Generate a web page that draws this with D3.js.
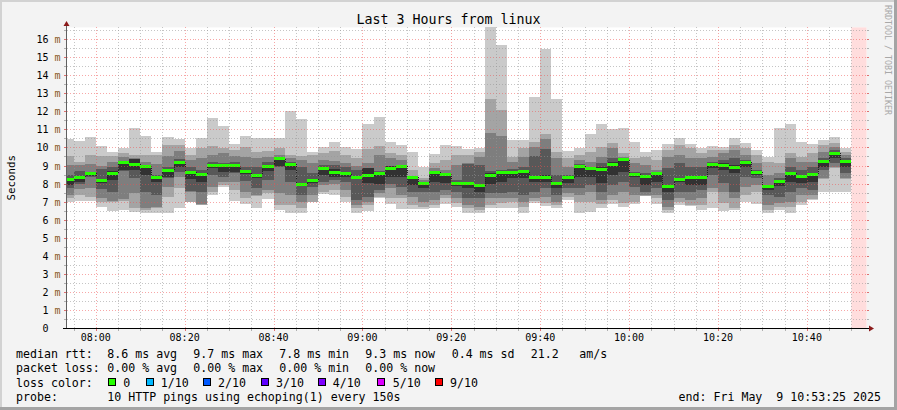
<!DOCTYPE html>
<html><head><meta charset="utf-8">
<script src="https://cdn.jsdelivr.net/npm/d3@7"></script>
<style>
html,body{margin:0;padding:0;background:#f3f3f3;}
svg{display:block;}
text{font-family:"DejaVu Sans Mono",monospace;white-space:pre;}
</style></head><body>
<svg id="chart" width="897" height="410"></svg>
<script>
// ---- data ----
const title = "Last 3 Hours from linux";
const startTime = "07:53:25";
const endTime = "10:53:25";
const unknownFrom = "10:50:00";
const stepSeconds = 150;
const barStart = ["07:52:30","07:55:00","07:57:30","08:00:00","08:02:30","08:05:00","08:07:30","08:10:00","08:12:30","08:15:00",
"08:17:30","08:20:00","08:22:30","08:25:00","08:27:30","08:30:00","08:32:30","08:35:00","08:37:30","08:40:00",
"08:42:30","08:45:00","08:47:30","08:50:00","08:52:30","08:55:00","08:57:30","09:00:00","09:02:30","09:05:00",
"09:07:30","09:10:00","09:12:30","09:15:00","09:17:30","09:20:00","09:22:30","09:25:00","09:27:30","09:30:00",
"09:32:30","09:35:00","09:37:30","09:40:00","09:42:30","09:45:00","09:47:30","09:50:00","09:52:30","09:55:00",
"09:57:30","10:00:00","10:02:30","10:05:00","10:07:30","10:10:00","10:12:30","10:15:00","10:17:30","10:20:00",
"10:22:30","10:25:00","10:27:30","10:30:00","10:32:30","10:35:00","10:37:30","10:40:00","10:42:30","10:45:00",
"10:47:30"];
// sorted ping values (ms), p10 = slowest, p1 = fastest
const p10 = [10.46,10.35,10.57,10.08,9.76,9.95,11.07,10.63,9.76,10.57,10.46,9.95,10.50,11.63,11.18,10.19,10.63,10.50,10.50,10.50,12.01,11.57,9.76,10.02,10.30,10.01,9.91,11.30,11.69,10.30,10.14,9.75,8.94,9.62,10.12,10.06,9.90,9.99,16.65,15.67,10.41,10.41,12.79,15.45,12.68,9.80,9.95,10.74,11.29,11.00,11.07,10.30,9.74,9.85,10.17,10.52,10.19,9.95,10.08,10.00,10.52,10.24,9.85,9.47,11.07,11.29,10.30,10.19,10.43,10.57,9.96];
const p9 = [9.52,9.21,9.61,9.52,9.52,9.72,9.61,9.61,9.58,10.13,10.13,9.61,9.95,10.09,9.95,9.85,10.04,9.76,9.80,9.95,9.61,9.54,9.58,9.67,9.80,9.58,9.40,9.91,10.10,9.67,9.58,8.75,8.29,9.12,9.31,9.58,9.58,9.77,12.68,12.07,9.49,9.95,10.32,10.74,9.73,9.40,9.58,9.77,10.04,10.22,9.67,9.39,9.48,9.30,9.85,10.13,9.95,9.72,9.85,9.85,10.13,9.95,9.58,9.21,9.12,9.67,9.48,9.67,10.13,10.22,9.76];
const p8 = [9.02,9.02,9.06,8.97,9.21,9.47,9.43,9.21,9.06,9.52,9.80,9.30,9.39,9.61,9.67,9.55,9.48,9.39,9.48,9.61,9.39,9.30,9.12,9.30,9.25,9.12,8.99,9.12,9.58,9.43,9.31,8.38,8.20,8.84,8.75,9.03,9.12,9.49,10.82,10.63,9.21,9.49,10.02,10.47,9.40,8.94,9.31,9.21,9.48,9.95,9.48,9.12,9.02,8.75,9.48,9.58,9.39,9.39,9.48,9.67,9.85,9.58,9.12,8.47,8.56,9.39,9.21,9.21,9.76,10.04,9.58];
const p7 = [8.47,8.69,8.65,8.80,8.93,9.25,9.37,9.02,8.47,8.90,9.34,8.90,8.75,9.21,9.12,9.21,8.93,8.93,9.21,9.47,9.21,8.93,8.56,9.02,9.03,8.94,8.75,8.88,8.70,9.00,9.03,8.38,8.11,8.70,8.57,8.20,9.10,9.03,8.70,8.75,8.81,8.94,9.53,9.91,8.47,8.47,9.06,8.94,9.12,9.39,9.39,8.65,8.56,8.65,8.84,9.12,8.93,8.93,9.21,9.30,9.39,9.30,8.75,7.92,8.29,8.93,8.75,8.93,9.39,9.85,9.39];
const p6 = [8.32,8.40,8.60,8.25,8.69,9.20,9.36,9.00,8.40,8.78,9.22,8.68,8.55,9.05,9.08,9.07,8.75,8.50,9.02,9.42,9.12,8.05,8.25,8.88,8.81,8.66,8.40,8.84,8.66,8.99,9.02,8.37,8.05,8.68,8.53,8.06,8.00,7.92,8.57,8.66,8.66,8.72,8.38,8.47,8.02,8.40,9.00,8.90,8.93,9.21,9.35,8.56,8.45,8.58,7.90,8.28,8.38,8.38,9.12,9.12,9.02,9.22,8.66,7.88,8.18,8.65,8.45,8.60,9.25,9.72,9.27];
const median = [8.23,8.34,8.56,8.17,8.58,9.15,9.08,8.95,8.34,8.73,9.17,8.62,8.51,8.99,9.02,9.00,8.67,8.43,8.97,9.37,9.06,7.97,8.17,8.82,8.60,8.53,8.35,8.44,8.53,8.84,8.97,8.36,8.01,8.64,8.51,8.03,7.98,7.88,8.46,8.60,8.60,8.66,8.31,8.36,7.98,8.33,8.97,8.84,8.78,9.06,9.32,8.52,8.41,8.54,7.82,8.25,8.34,8.34,9.08,9.02,8.91,9.19,8.62,7.84,8.14,8.56,8.41,8.51,9.23,9.67,9.23];
const p5 = [7.92,8.10,8.42,8.05,8.19,8.75,8.75,8.47,8.06,8.38,8.93,8.25,8.10,8.85,8.65,8.65,8.51,8.32,8.69,8.97,8.75,7.85,8.05,8.47,8.38,8.38,8.29,8.02,7.96,8.38,8.38,7.92,7.74,8.11,8.02,7.85,7.74,7.55,7.96,8.11,8.29,8.29,8.11,8.11,7.74,8.02,8.38,8.38,8.01,8.47,8.65,8.38,7.92,8.10,7.55,8.06,7.92,7.92,8.84,8.75,8.56,8.93,8.47,7.64,7.88,8.10,8.01,8.10,8.93,9.39,8.93];
const p4 = [7.73,8.00,8.38,7.69,7.55,8.70,8.29,7.55,7.36,8.30,8.62,7.60,7.55,8.47,8.38,8.60,8.15,7.73,8.19,8.90,8.10,7.36,7.82,8.06,8.20,8.11,7.09,7.27,7.64,7.96,7.83,7.55,7.55,7.55,7.65,7.55,7.18,7.18,7.46,7.46,7.55,7.37,7.55,7.74,7.37,7.74,7.74,7.92,7.55,7.92,8.10,7.82,7.55,7.73,7.09,7.55,7.55,7.64,8.47,8.01,7.55,8.38,8.29,7.36,7.27,7.55,7.73,7.64,8.75,9.12,8.56];
const p3 = [7.36,7.69,7.73,7.18,7.05,7.15,7.45,6.62,6.72,7.82,8.38,7.55,6.85,7.82,8.10,8.10,7.55,7.36,7.64,7.45,7.36,6.99,7.36,7.92,7.96,7.64,6.81,7.00,7.46,7.74,7.37,7.28,7.00,7.09,7.37,7.18,6.81,6.72,7.18,7.18,7.18,7.00,7.18,7.28,7.00,7.46,7.37,7.55,7.09,7.36,7.55,7.36,7.36,7.36,6.72,7.18,7.09,7.18,7.73,7.55,7.18,7.82,7.92,6.81,6.90,6.99,7.36,7.36,8.29,8.93,8.29];
const p2 = [7.18,7.36,7.27,6.96,6.99,7.05,6.62,6.55,6.66,7.27,7.73,7.00,6.83,7.55,7.92,7.64,7.18,7.30,7.45,6.81,6.81,6.62,6.99,7.55,7.64,7.28,6.66,6.81,7.25,7.18,7.18,6.81,6.72,6.81,7.18,6.90,6.63,6.53,6.81,6.90,7.00,6.72,7.03,6.95,6.81,7.27,7.00,7.00,6.85,7.09,6.90,6.99,7.33,7.18,6.53,6.99,6.81,6.81,7.55,6.90,6.62,7.36,7.55,6.53,6.72,6.72,6.99,7.15,8.25,8.85,8.27];
const p1 = [6.99,7.03,7.03,6.72,6.49,6.53,6.44,6.35,6.35,6.35,6.66,6.96,6.81,7.36,7.82,7.03,6.85,6.66,7.14,6.53,6.38,6.38,6.96,7.44,7.37,7.00,6.39,6.50,7.18,6.87,6.57,6.59,6.59,6.63,6.87,6.72,6.39,6.35,6.63,6.65,6.67,6.39,6.91,6.76,6.67,7.07,6.39,6.44,6.62,6.88,6.70,6.85,7.31,6.85,6.38,6.81,6.75,6.55,6.62,6.49,6.53,6.99,6.86,6.38,6.53,6.38,6.81,7.09,7.55,7.55,7.55];
const yTicks = [0,1,2,3,4,5,6,7,8,9,10,11,12,13,14,15,16];
const xTickLabels = ["08:00","08:20","08:40","09:00","09:20","09:40","10:00","10:20","10:40"];
const lossLabels = ["0","1/10","2/10","3/10","4/10","5/10","9/10"];
const lossColors = ["#26ff00","#00b8ff","#0059ff","#5e00ff","#7e00ff","#dd00ff","#ff0000"];
const rttStats = ["8.6 ms avg","9.7 ms max","7.8 ms min","9.3 ms now","0.4 ms sd","21.2","am/s"];
const lossStats = ["0.00 % avg","0.00 % max","0.00 % min","0.00 % now"];
const probeText = "10 HTTP pings using echoping(1) every 150s";
const endText = "end: Fri May  9 10:53:25 2025";

// ---- drawing ----
const W = 897, H = 410;
const L = 66.5, R = 866.5, T = 27.4, B = 328;
const parse = t => { const [h,m,s] = t.split(":").map(Number); return new Date(2025,4,9,h,m,s); };
const svg = d3.select("#chart");
const x = d3.scaleTime().domain([parse(startTime), parse(endTime)]).range([L, R]);
const y = d3.scaleLinear().domain([0, 16.65]).range([B, T]);

// frame
svg.append("rect").attr("width",W).attr("height",H).attr("fill","#f3f3f3");
svg.append("rect").attr("x",0).attr("y",0).attr("width",W).attr("height",2).attr("fill","#d2d2d2");
svg.append("rect").attr("x",0).attr("y",0).attr("width",2).attr("height",H).attr("fill","#d2d2d2");
svg.append("rect").attr("x",W-3).attr("y",0).attr("width",3).attr("height",H).attr("fill","#a4a4a4");
svg.append("rect").attr("x",0).attr("y",H-3).attr("width",W).attr("height",3).attr("fill","#a4a4a4");

// plot background
svg.append("rect").attr("x",L).attr("y",T).attr("width",R-L).attr("height",B-T).attr("fill","#ffffff");
// unknown region
svg.append("rect").attr("x",x(parse(unknownFrom))).attr("y",T)
  .attr("width",x(parse(endTime))-x(parse(unknownFrom))).attr("height",B-T).attr("fill","#ffdddd");

const bars = barStart.map((s,i)=>{
  const t0 = parse(s);
  const t1 = new Date(t0.getTime()+stepSeconds*1000);
  return {i, x0: Math.max(L, x(t0)), x1: x(t1),
    p:[p1[i],p2[i],p3[i],p4[i],p5[i],p6[i],p7[i],p8[i],p9[i],p10[i]], med: median[i]};
});
const layerColors = ["#cacaca","#a4a4a4","#7e7e7e","#585858","#323232","#585858","#7e7e7e","#a4a4a4","#cacaca"];
const smoke = svg.append("g").attr("shape-rendering","crispEdges");
layerColors.forEach((c,k)=>{
  smoke.selectAll(null).data(bars).enter().append("rect")
    .attr("x",d=>d.x0).attr("width",d=>d.x1-d.x0)
    .attr("y",d=>y(d.p[k+1])).attr("height",d=>Math.max(0,y(d.p[k])-y(d.p[k+1])))
    .attr("fill",c);
});
// median connectors
const conn = svg.append("g").attr("shape-rendering","crispEdges");
bars.slice(1).forEach((d,j)=>{
  const prev = bars[j];
  conn.append("line").attr("x1",Math.round(d.x0)+0.5).attr("x2",Math.round(d.x0)+0.5)
    .attr("y1",y(prev.med)).attr("y2",y(d.med)).attr("stroke","#202020").attr("stroke-width",1)
    .attr("stroke-dasharray","1,1");
});
svg.append("g").attr("shape-rendering","crispEdges").selectAll("rect").data(bars).enter().append("rect")
  .attr("x",d=>d.x0).attr("width",d=>d.x1-d.x0)
  .attr("y",d=>y(d.med)-1.5).attr("height",3).attr("fill",lossColors[0]);

// grid
const grid = svg.append("g").attr("shape-rendering","crispEdges");
const minorC = "rgba(150,150,150,0.55)", majorC = "rgba(240,80,80,0.5)";
const halfSteps = d3.range(1, 34).map(k=>k*0.5).filter(v=>y(v)>=T);
halfSteps.forEach(v=>{
  const yy = Math.round(y(v))+0.5;
  const major = Number.isInteger(v);
  grid.append("line").attr("x1",L).attr("x2",R).attr("y1",yy).attr("y2",yy)
    .attr("stroke",major?majorC:minorC).attr("stroke-dasharray","1,2");
  grid.append("line").attr("x1",L-3).attr("x2",L).attr("y1",yy).attr("y2",yy).attr("stroke",major?"#e07070":"#b0b0b0");
  grid.append("line").attr("x1",R).attr("x2",R+2).attr("y1",yy).attr("y2",yy).attr("stroke",major?"#e07070":"#b0b0b0");
});
const minorTimes = x.ticks(d3.timeMinute.every(5));
minorTimes.forEach(t=>{
  const xx = Math.round(x(t))+0.5;
  const major = t.getMinutes()%20===0;
  grid.append("line").attr("x1",xx).attr("x2",xx).attr("y1",T).attr("y2",B)
    .attr("stroke",major?majorC:minorC).attr("stroke-dasharray","1,2");
  grid.append("line").attr("x1",xx).attr("x2",xx).attr("y1",B).attr("y2",B+3).attr("stroke",major?"#e07070":"#b0b0b0");
});

// axes
svg.append("line").attr("x1",L).attr("x2",L).attr("y1",B).attr("y2",23).attr("stroke","#606060").attr("shape-rendering","crispEdges");
svg.append("path").attr("d",`M${L-3},26 L${L+3},26 L${L},21 Z`).attr("fill","#8b1a1a");
svg.append("line").attr("x1",L-4).attr("x2",870).attr("y1",B+0.5).attr("y2",B+0.5).attr("stroke","#000").attr("shape-rendering","crispEdges");
svg.append("path").attr("d",`M869,${B-2.5} L869,${B+3.5} L874,${B+0.5} Z`).attr("fill","#8b1a1a");

// y labels
const yl = svg.append("g").attr("font-size","10px").attr("text-anchor","end");
yTicks.forEach(v=>{
  const t = yl.append("text").attr("x",60.5).attr("y",Math.round(y(v))+4);
  if (v===0) { t.append("tspan").attr("fill","#000").text("0  "); }
  else { t.append("tspan").attr("fill","#000").text(v+" "); t.append("tspan").attr("fill","#8a5a24").text("m"); }
});
// x labels
const xl = svg.append("g").attr("font-size","10px").attr("text-anchor","middle").attr("fill","#000");
xTickLabels.forEach(s=>{ xl.append("text").attr("x",x(parse(s+":00"))).attr("y",341).text(s); });

// titles
svg.append("text").attr("x",448.5).attr("y",24).attr("text-anchor","middle").attr("font-size","13.3px").attr("fill","#000").text(title);
svg.append("text").attr("transform",`translate(14.5,${(T+B)/2}) rotate(-90)`).attr("text-anchor","middle")
  .attr("font-size","10.8px").attr("fill","#000").text("Seconds");
svg.append("text").attr("transform","translate(884.5,5) rotate(90)").attr("font-size","8.3px").attr("fill","#a8a8a8").text("RRDTOOL / TOBI OETIKER");

// legend
const lg = svg.append("g").attr("font-size","11.6px").attr("fill","#000");
const rows = [358, 372.3, 386.5, 400.7];
lg.append("text").attr("x",16).attr("y",rows[0]).text("median rtt:");
[107.3,193.3,279.3,365.3,451.7,530.7,579.3].forEach((xx,i)=>lg.append("text").attr("x",xx).attr("y",rows[0]).text(rttStats[i]));
lg.append("text").attr("x",16).attr("y",rows[1]).text("packet loss:");
[107.3,193.3,279.3,365.3].forEach((xx,i)=>lg.append("text").attr("x",xx).attr("y",rows[1]).text(lossStats[i]));
lg.append("text").attr("x",16).attr("y",rows[2]).text("loss color:");
const boxX = [108.5,146,203,261,318,377.5,435];
const txtX = [123.3,160.7,218,276,332.7,392.7,450];
lossLabels.forEach((s,i)=>{
  lg.append("rect").attr("x",boxX[i]).attr("y",378.5).attr("width",7).attr("height",7)
    .attr("fill",lossColors[i]).attr("stroke","#000").attr("stroke-width",1).attr("shape-rendering","crispEdges");
  lg.append("text").attr("x",txtX[i]).attr("y",rows[2]).text(s);
});
lg.append("text").attr("x",16).attr("y",rows[3]).text("probe:");
lg.append("text").attr("x",107.3).attr("y",rows[3]).text(probeText);
lg.append("text").attr("x",881).attr("y",rows[3]).attr("text-anchor","end").text(endText);
</script>
</body></html>
